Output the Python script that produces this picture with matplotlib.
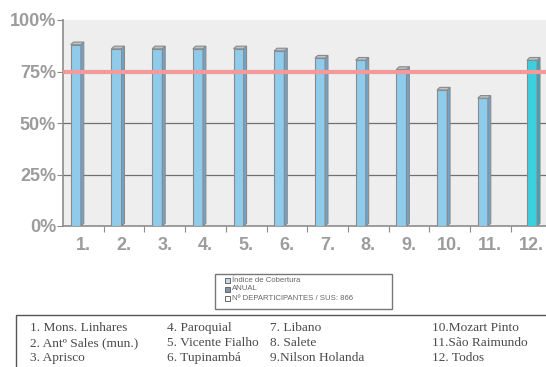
import numpy as np
import matplotlib
matplotlib.use("Agg")
import matplotlib.pyplot as plt
from matplotlib.patches import Rectangle, Polygon

# data
labels = ["1.", "2.", "3.", "4.", "5.", "6.", "7.", "8.", "9.", "10.", "11.", "12."]
cobertura = [88, 86, 86, 86, 86, 85, 81.5, 80.5, 76, 66, 62, 80.5]
meta = 75
yticks = [0, 25, 50, 75, 100]
legend_items = ["Índice de Cobertura", "ANUAL", "Nº DEPARTICIPANTES / SUS: 866"]
nomes = [["1. Mons. Linhares", "2. Antº Sales (mun.)", "3. Aprisco"],
         ["4. Paroquial", "5. Vicente Fialho", "6. Tupinambá"],
         ["7. Libano", "8. Salete", "9.Nilson Holanda"],
         ["10.Mozart Pinto", "11.São Raimundo", "12. Todos"]]

W, H = 546, 367
fig = plt.figure(figsize=(W / 100, H / 100), dpi=100)
fig.patch.set_facecolor("white")

def fx(px): return px / W
def fy(py): return 1 - py / H

ax = fig.add_axes([fx(63), fy(226), 1 - fx(63), fy(20) - fy(226)])
ax.set_facecolor("#eeeeee")
cat_w = 40.7
ax.set_xlim(-0.5, -0.5 + (W - 63) / cat_w)
ax.set_ylim(0, 100)

# gridlines
for g in [25, 50]:
    ax.axhline(g, color="#707070", lw=0.9, zorder=1)
ax.axhline(meta, color="#f49a9a", lw=3, zorder=4)

# 3d-ish bars; the last one ("Todos") sits in the second series slot
x = np.arange(len(labels))
bw = 0.25
dx, dy = 0.07, 1.3
for i, v in enumerate(cobertura):
    last = i == len(labels) - 1
    front = "#3ccfe0" if last else "#8fcbeb"
    side = "#2fa8bb" if last else "#6aa6cf"
    x0 = x[i] - 0.5 + (0.40 if last else 0.19)
    ax.add_patch(Rectangle((x0, 0), bw, v, facecolor=front, edgecolor="#8a8a8a", lw=0.8, zorder=3))
    ax.add_patch(Polygon([(x0 + bw, 0), (x0 + bw + dx, dy), (x0 + bw + dx, v + dy), (x0 + bw, v)],
                         closed=True, facecolor=side, edgecolor="#8a8a8a", lw=0.8, zorder=3))
    ax.add_patch(Polygon([(x0, v), (x0 + bw, v), (x0 + bw + dx, v + dy), (x0 + dx, v + dy)],
                         closed=True, facecolor="#b9c2ca", edgecolor="#8a8a8a", lw=0.8, zorder=3))

for s in ["top", "right"]:
    ax.spines[s].set_visible(False)
for s in ["left", "bottom"]:
    ax.spines[s].set_color("#8c8c8c")
    ax.spines[s].set_linewidth(1.2)

tickfont = dict(fontsize=13, fontweight="bold", color="#9c9c9c", family="Liberation Sans")
ax.set_yticks(yticks)
ax.set_yticklabels([f"{t}%" for t in yticks], **tickfont)
ax.tick_params(axis="y", length=4, color="#8c8c8c", pad=1)
ax.set_xticks(x[:-1] + 0.5)
ax.set_xticklabels([])
ax.set_xticks(x, minor=True)
ax.set_xticklabels(labels, minor=True, **tickfont)
ax.tick_params(axis="x", which="major", length=4, color="#8c8c8c")
ax.tick_params(axis="x", which="minor", length=0, pad=8)

# legend box
fig.patches.append(Rectangle((fx(215), fy(309)), fx(392) - fx(215), fy(274) - fy(309),
                             transform=fig.transFigure, facecolor="white", edgecolor="#777777", lw=1))
mk_colors = ["#c8d8e8", "#8096b0", "white"]
for j, (t, c) in enumerate(zip(legend_items, mk_colors)):
    yy = 280 + j * 9
    fig.patches.append(Rectangle((fx(225), fy(yy + 3)), fx(5), 5 / H, transform=fig.transFigure,
                                 facecolor=c, edgecolor="#666666", lw=0.7))
    fig.text(fx(232), fy(yy), t, fontsize=5.6, color="#666666", va="center", ha="left",
             family="Liberation Sans")

# names table
fig.patches.append(Rectangle((fx(15.5), fy(372)), 1.1, fy(315) - fy(372),
                             transform=fig.transFigure, facecolor="white", edgecolor="#555555", lw=1))
cols = [29.6, 166.5, 270, 432]
for c, col in zip(cols, nomes):
    for r, nm in enumerate(col):
        fig.text(fx(c), fy(328 + r * 15), nm, fontsize=9.6, family="Liberation Serif",
                 color="#4a4a4a", va="center", ha="left")

fig.savefig("out.png", dpi=100)
